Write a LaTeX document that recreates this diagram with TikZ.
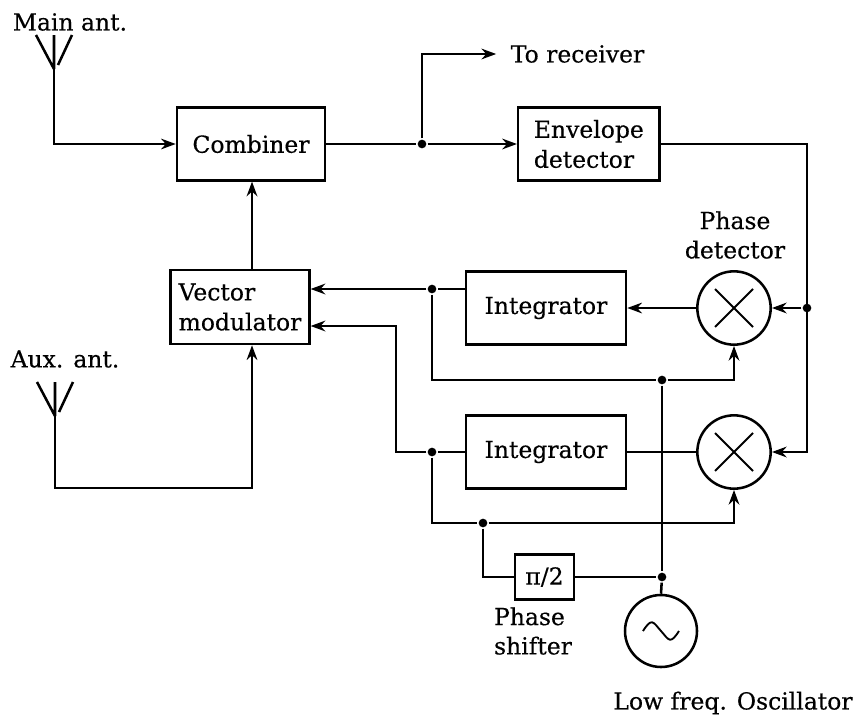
\documentclass[tikz,border=0pt]{standalone}
\usepackage{fontspec}
\setmainfont[FakeBold=0.35]{DejaVu Serif}
\usetikzlibrary{arrows.meta,calc,positioning}

\begin{document}
\begin{tikzpicture}[
      x=0.75pt, y=-0.75pt,
      line width=1.9pt,
      box/.style={draw=black, minimum height=54.5pt, align=left, inner sep=0pt,
        font=\fontsize{17.6}{22.5}\selectfont},
      combbox/.style={box, minimum width=111pt},
      envbox/.style={box, minimum width=106pt},
      vecbox/.style={box, minimum width=104pt, minimum height=55.5pt},
      intbox/.style={box, minimum width=120pt},
      shiftbox/.style={box, minimum width=44pt, minimum height=34pt},
      mixer/.style={draw=black, circle, minimum size=55pt, inner sep=0pt},
      label/.style={inner sep=0pt, align=center, font=\fontsize{17.6}{22}\selectfont},
      dot/.style={fill=black, circle, minimum size=6.5pt, inner sep=0pt},
      arrow/.style={-{Stealth[length=11pt, width=8pt]}}
    ]
    \useasboundingbox (0,0) rectangle (864,721);

    \node[combbox] (combiner) at (251,144) {Combiner};
    \node[envbox, right=143pt of combiner] (envelope) {Envelope\\detector};
    \node[vecbox] (vecmod) at (240,307) {Vector\\modulator};
    \node[intbox] (intega) at (546,308) {Integrator};
    \node[mixer] (mixa) at (734,308) {};
    \node[mixer] (mixb) at (734,452) {};
    \node[intbox] (integb) at (intega |- mixb) {Integrator};
    \node[shiftbox] (shifter) at (544.5,577) {π/2};
    \node[mixer, minimum size=54pt] (osc) at (661,631) {};

    \node[label] (mainlabel) at (70,22) {Main ant.};
    \node[label] (auxlabel) at (65,359) {Aux. ant.};
    \node[label] (receiver) at (577.5,54) {To receiver};
    \node[label] (phaselabel) at (735,235) {Phase\\detector};
    \node[label, align=left] (shiftlabel) at (533,631) {Phase\\shifter};
    \node[label] (osclabel) at (733,703) {Low freq. Oscillator};

    % antennas
    \coordinate (mainant) at (54,69);
    \coordinate (auxant) at (55,416);
    \draw (mainant) -- +(-18,-34) (mainant) -- +(0,-34) (mainant) ++(4,-4) -- +(14,-30);
    \draw (auxant) -- +(-18,-34) (auxant) -- +(0,-34) (auxant) ++(4,-4) -- +(14,-30);

    % junctions
    \node[dot] (jout) at (422,144) {};
    \node[dot] (jright) at (807,308) {};
    \node[dot] (jinta) at (432,289) {};
    \node[dot] (jintb) at (432,452) {};
    \node[dot] (jlow) at (662,380) {};
    \node[dot] (jloop) at (483,523) {};
    \node[dot] (josc) at (662,577) {};

    \draw[arrow] (mainant) |- (combiner.west);
    \draw (combiner.east) -- (jout);
    \draw[arrow] (jout) -- (envelope.west);
    \draw[arrow] (jout) |- ([xshift=-10pt]receiver.west);
    \draw[arrow] (envelope.east) -| (807,308) |- (mixb.east);
    \draw[arrow] (jright) -- (mixa.east);
    \draw[arrow] (mixa.west) -- (intega.east);
    \draw (integb.east) -- (mixb.west);
    \draw (intega.west |- jinta) -- (jinta);
    \draw[arrow] (jinta) -- (jinta -| vecmod.east);
    \draw (integb.west) -- (jintb);
    \draw[arrow] (jintb) -| (396,326) -- (vecmod.east |- 0,326);
    \draw[arrow] (jinta) |- (jlow) -| (mixa.south);
    \draw[arrow] (jintb) |- (jloop) -| (mixb.south);
    \draw (jlow) -- (josc);
    \draw (jloop) |- (shifter.west);
    \draw (shifter.east) -- (josc);
    \draw (josc) -- (osc.north);
    \draw[arrow] (vecmod.north -| 252,0) -- (combiner.south -| 252,0);
    \draw[arrow] (auxant) |- (252,488) -- (vecmod.south -| 252,0);

    % symbols inside the circles
    \draw[line width=1.4pt] (mixa.center) +(-19,-19) -- +(19,19) (mixa.center) +(-19,19) -- +(19,-19);
    \draw[line width=1.4pt] (mixb.center) +(-19,-19) -- +(19,19) (mixb.center) +(-19,19) -- +(19,-19);
    \draw[line width=1.4pt] (osc.center) ++(-18,0) .. controls +(9,-14) and +(-8,-9) .. (osc.center)
      .. controls +(8,9) and +(-9,14) .. +(18,0);
\end{tikzpicture}
\end{document}
